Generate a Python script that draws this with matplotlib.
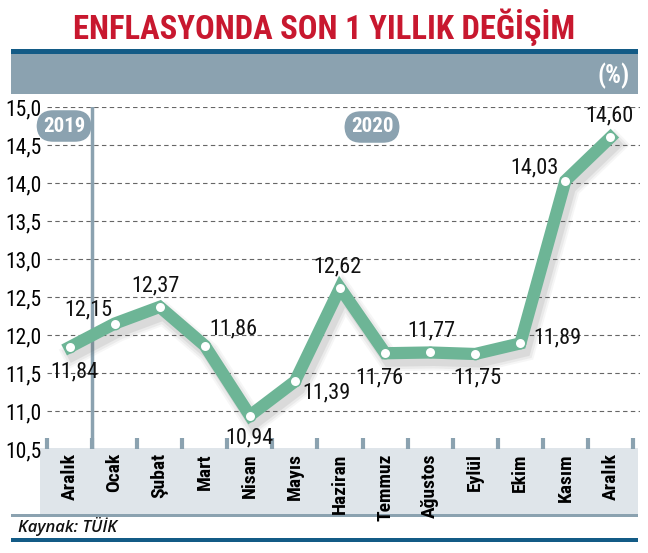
import matplotlib
matplotlib.use("Agg")
import matplotlib.pyplot as plt
from matplotlib import font_manager as fm
from matplotlib.patches import Rectangle
import matplotlib.transforms as mtransforms

# ---------------- data ----------------
months = ['Aralık', 'Ocak', 'Şubat', 'Mart', 'Nisan', 'Mayıs', 'Haziran',
          'Temmuz', 'Ağustos', 'Eylül', 'Ekim', 'Kasım', 'Aralık']
values = [11.84, 12.15, 12.37, 11.86, 10.94, 11.39, 12.62,
          11.76, 11.77, 11.75, 11.89, 14.03, 14.60]
yticks = [10.5, 11.0, 11.5, 12.0, 12.5, 13.0, 13.5, 14.0, 14.5, 15.0]
ytick_labels = ['10,5', '11,0', '11,5', '12,0', '12,5', '13,0', '13,5', '14,0', '14,5', '15,0']
value_labels = [f"{v:.2f}".replace('.', ',') for v in values]
years = ['2019', '2020']
title = 'ENFLASYONDA SON 1 YILLIK DEĞİŞİM'
source = 'Kaynak: TÜİK'

# label offsets in pixels (dx, dy)
label_offsets = [(5, -25), (-26, 14), (-4, 21), (29, 17), (0, -22), (32, -12), (-3, 21),
                 (-6, -25), (1, 22), (2, -24), (37, 5), (-31, 13), (-1, 21)]


def pick(names):
    for n in names:
        try:
            fm.findfont(fm.FontProperties(family=n), fallback_to_default=False)
            return n
        except Exception:
            continue
    return 'DejaVu Sans'


COND = pick(['Liberation Sans Narrow', 'DejaVu Sans Condensed', 'Roboto Condensed', 'DejaVu Sans'])
SRC = pick(['Open Sans', 'DejaVu Sans'])

GREEN = '#6db596'
BAND = '#8ba2b0'
LIGHT = '#dfe5ea'
DARKBLUE = '#135b86'
RED = '#c8182f'

W, H = 648, 553
fig = plt.figure(figsize=(W / 100, H / 100), dpi=100)
fig.patch.set_facecolor('white')


def fx(px):
    return px / W


def fy(py):
    return 1 - py / H


def frect(x0, y0, x1, y1, color, z=-1):
    fig.patches.append(Rectangle((fx(x0), fy(y1)), fx(x1) - fx(x0), fy(y0) - fy(y1),
                                 transform=fig.transFigure, facecolor=color,
                                 edgecolor='none', zorder=z))


# decorative bands
frect(11, 49, 638, 54, DARKBLUE)
frect(11, 54, 638, 94, BAND)
frect(40, 448, 638, 514, LIGHT)
frect(11, 514, 638, 517, BAND)
frect(11, 538, 638, 542, DARKBLUE)

fig.text(fx(324), fy(27), title, color=RED, fontsize=23.5, fontweight='bold',
         family=COND, ha='center', va='center')
fig.text(fx(630), fy(76), '(%)', color='white', fontsize=18, fontweight='bold',
         family=COND, ha='right', va='center')
fig.text(fx(18), fy(527), source, color='#111111', fontsize=12, fontstyle='italic',
         fontweight='semibold', family=SRC, ha='left', va='center')

# axes
left, right, top, bottom = 47, 640, 107, 449
ax = fig.add_axes([fx(left), fy(bottom), fx(right) - fx(left), fy(top) - fy(bottom)])
ax.set_facecolor('none')
x = list(range(len(values)))
ax.set_xlim(-0.5, 12.655)
ax.set_ylim(10.5, 15.0)
for s in ax.spines.values():
    s.set_visible(False)

for yv in yticks[1:]:
    ax.axhline(yv, color='#666666', lw=0.8, ls=(0, (4, 3)), zorder=1)

ax.set_yticks(yticks)
ax.set_yticklabels(ytick_labels, family=COND, fontsize=15.5)
ax.tick_params(axis='y', length=0, pad=4)

ax.set_xticks(x)
ax.set_xticklabels(months, rotation=90, family=COND, fontsize=14, fontweight='bold',
                   va='top', ha='center')
ax.tick_params(axis='x', length=0, pad=3)
ax.set_xticks([i - 0.5 for i in range(len(values) + 1)], minor=True)
ax.tick_params(axis='x', which='minor', direction='in', length=8, width=3, color=BAND)

# year separator
ax.axvline(0.5, color=BAND, lw=2.5, zorder=2)

# shadow
for lw, a in [(22, 0.05), (18, 0.07), (13, 0.10)]:
    tr = mtransforms.offset_copy(ax.transData, fig=fig, x=4, y=-7, units='dots')
    ax.plot(x, values, color='#555555', lw=lw * 0.72, alpha=a, transform=tr,
            solid_joinstyle='miter', zorder=3)

ax.plot(x, values, color=GREEN, lw=8.8, solid_joinstyle='miter', zorder=4)
ax.plot(x, values, ls='none', marker='o', ms=7.5, mfc='white', mec=GREEN, mew=1, zorder=5)

for xi, v, lab, (dx, dy) in zip(x, values, value_labels, label_offsets):
    ax.annotate(lab, (xi, v), xytext=(dx, dy), textcoords='offset pixels',
                ha='center', va='center', fontsize=16, family=COND, color='#111111', zorder=6)

# year pills
pill = dict(boxstyle='round,pad=0.3,rounding_size=0.8', fc=BAND, ec='none')
fig.text(fx(64), fy(126), years[0], color='white', fontsize=15, fontweight='bold',
         family=COND, ha='center', va='center', bbox=pill)
fig.text(fx(372), fy(127), years[1], color='white', fontsize=15, fontweight='bold',
         family=COND, ha='center', va='center', bbox=pill)

fig.savefig('out.png', dpi=100, facecolor='white')
